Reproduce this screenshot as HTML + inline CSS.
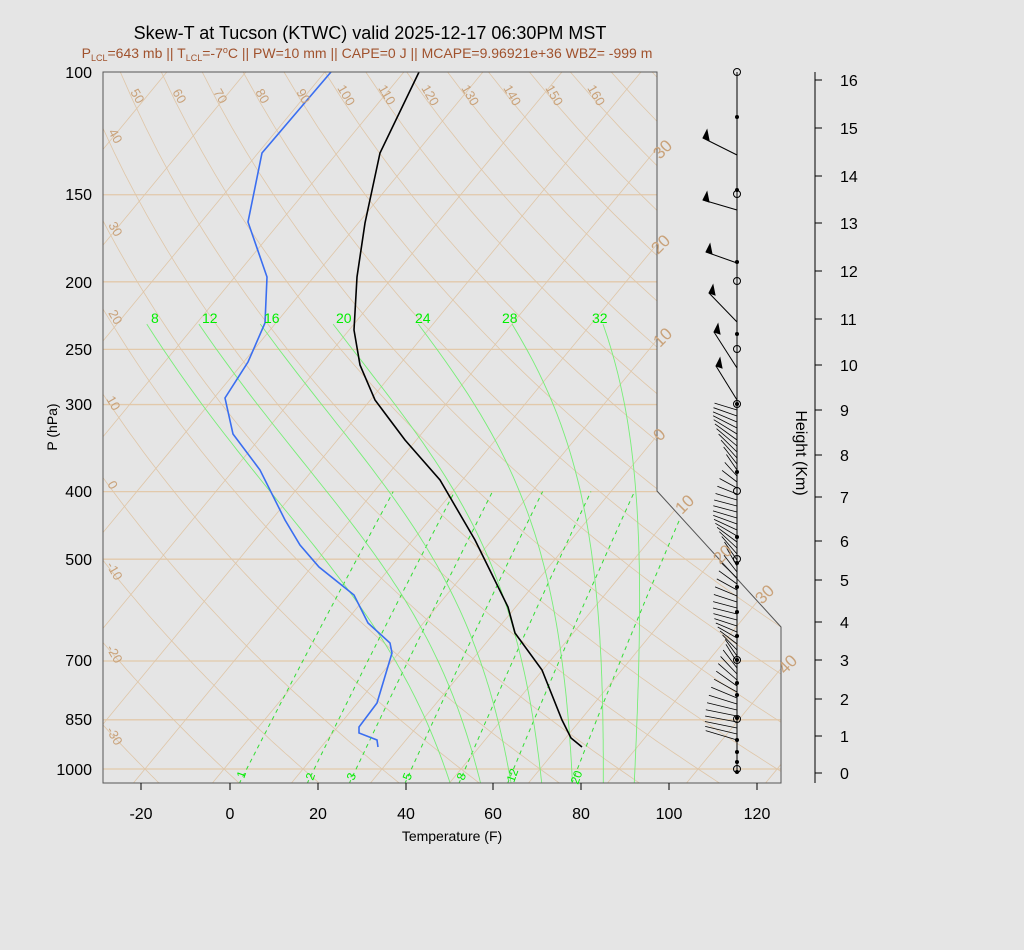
<!DOCTYPE html>
<html><head><meta charset="utf-8"><style>
body{margin:0;background:#e5e5e5;width:1024px;height:950px;overflow:hidden;font-family:"Liberation Sans",sans-serif}
svg{position:absolute;left:0;top:0}
</style></head><body>
<svg id="s" width="1024" height="950" xmlns="http://www.w3.org/2000/svg" font-family="Liberation Sans, sans-serif">
<defs><clipPath id="c"><polygon points="103,72 657,72 657,491 781,627 781,783 103,783"/></clipPath></defs>
<rect width="1024" height="950" fill="#e5e5e5"/>
<g id="grid" clip-path="url(#c)"></g>
<g id="snd" clip-path="url(#c)" fill="none" stroke-width="1.6">
<polyline stroke="#000" points="420,70 380,153 365,223 357,277 354,330 360,365 375,400 405,440 440,480 475,540 508,607 515,633 542,670 562,720 571,738 582,747"/>
<polyline stroke="#3a6ef0" points="331,72 262,153 248,222 267,277 265,323 248,362 225,398 233,434 260,470 285,520 300,545 319,567 354,595 368,623 390,643 392,653 377,703 359,727 359,733 377,740 378,747"/>
</g>
<polygon points="103,72 657,72 657,491 781,627 781,783 103,783" fill="none" stroke="#555" stroke-width="1"/>
<g id="barbs" stroke="#000" fill="none" stroke-width="1"></g>
<g font-size="13" fill="#c9a27a">
<text transform="translate(130,92) rotate(60)">50</text><text transform="translate(172,92) rotate(60)">60</text><text transform="translate(213,92) rotate(60)">70</text><text transform="translate(255,92) rotate(60)">80</text><text transform="translate(296,92) rotate(60)">90</text><text transform="translate(337,88) rotate(60)">100</text><text transform="translate(378,88) rotate(60)">110</text><text transform="translate(421,88) rotate(60)">120</text><text transform="translate(461,88) rotate(60)">130</text><text transform="translate(503,88) rotate(60)">140</text><text transform="translate(545,88) rotate(60)">150</text><text transform="translate(587,88) rotate(60)">160</text>
<text transform="translate(108,132) rotate(60)">40</text><text transform="translate(108,225) rotate(60)">30</text><text transform="translate(108,313) rotate(60)">20</text><text transform="translate(106,399) rotate(60)">10</text><text transform="translate(107,484) rotate(60)">0</text><text transform="translate(106,565) rotate(60)">-10</text><text transform="translate(106,648) rotate(60)">-20</text><text transform="translate(106,730) rotate(60)">-30</text>
</g>
<g font-size="17" fill="#c9a27a">
<text transform="translate(660,160) rotate(-45)">30</text><text transform="translate(658,255) rotate(-45)">20</text><text transform="translate(660,348) rotate(-45)">10</text><text transform="translate(660,442) rotate(-45)">0</text><text transform="translate(682,515) rotate(-45)">10</text><text transform="translate(720,565) rotate(-45)">20</text><text transform="translate(762,605) rotate(-45)">30</text><text transform="translate(785,675) rotate(-45)">40</text>
</g>
<g font-size="14" fill="#00ee00">
<text x="151" y="323">8</text><text x="202" y="323">12</text><text x="264" y="323">16</text><text x="336" y="323">20</text><text x="415" y="323">24</text><text x="502" y="323">28</text><text x="592" y="323">32</text>
</g>
<g font-size="12" fill="#00ee00">
<text transform="translate(244,779) rotate(-70)">1</text><text transform="translate(313,781) rotate(-70)">2</text><text transform="translate(354,781) rotate(-70)">3</text><text transform="translate(410,781) rotate(-70)">5</text><text transform="translate(464,781) rotate(-70)">8</text><text transform="translate(514,783) rotate(-70)">12</text><text transform="translate(578,785) rotate(-70)">20</text>
</g>
<g font-size="16" fill="#000" text-anchor="end">
<text x="92" y="78">100</text><text x="92" y="200">150</text><text x="92" y="288">200</text><text x="92" y="355">250</text><text x="92" y="410">300</text><text x="92" y="497">400</text><text x="92" y="565">500</text><text x="92" y="666">700</text><text x="92" y="725">850</text><text x="92" y="775">1000</text>
</g>
<text transform="translate(57,427) rotate(-90)" font-size="14" text-anchor="middle">P (hPa)</text>
<g stroke="#000"><line x1="141" y1="783" x2="141" y2="790"/><line x1="230" y1="783" x2="230" y2="790"/><line x1="318" y1="783" x2="318" y2="790"/><line x1="406" y1="783" x2="406" y2="790"/><line x1="493" y1="783" x2="493" y2="790"/><line x1="581" y1="783" x2="581" y2="790"/><line x1="669" y1="783" x2="669" y2="790"/><line x1="757" y1="783" x2="757" y2="790"/></g>
<g font-size="16" text-anchor="middle"><text x="141" y="819">-20</text><text x="230" y="819">0</text><text x="318" y="819">20</text><text x="406" y="819">40</text><text x="493" y="819">60</text><text x="581" y="819">80</text><text x="669" y="819">100</text><text x="757" y="819">120</text></g>
<text x="452" y="841" font-size="14" text-anchor="middle">Temperature (F)</text>
<g id="hax" stroke="#000"><line x1="815" y1="72" x2="815" y2="783"/></g>
<g font-size="16" id="hlab"><text x="840" y="779">0</text><text x="840" y="742">1</text><text x="840" y="705">2</text><text x="840" y="666">3</text><text x="840" y="628">4</text><text x="840" y="586">5</text><text x="840" y="547">6</text><text x="840" y="503">7</text><text x="840" y="461">8</text><text x="840" y="416">9</text><text x="840" y="371">10</text><text x="840" y="325">11</text><text x="840" y="277">12</text><text x="840" y="229">13</text><text x="840" y="182">14</text><text x="840" y="134">15</text><text x="840" y="86">16</text></g>
<text transform="translate(796,453) rotate(90)" font-size="16" text-anchor="middle">Height (Km)</text>
<text x="370" y="39" font-size="18" text-anchor="middle">Skew-T at Tucson (KTWC) valid 2025-12-17 06:30PM MST</text>
<text x="367" y="58" font-size="14" fill="#a0522d" text-anchor="middle">P<tspan font-size="9" dy="3">LCL</tspan><tspan dy="-3">=643 mb || T</tspan><tspan font-size="9" dy="3">LCL</tspan><tspan dy="-3">=-7</tspan><tspan font-size="9" dy="-5">o</tspan><tspan dy="5">C || PW=10 mm || CAPE=0 J || MCAPE=9.96921e+36 WBZ= -999 m</tspan></text>
</svg>
<script>
var NS="http://www.w3.org/2000/svg";
function Y(p){return 72+697*Math.log10(p/100);}
function X(Tc,y){var F=Tc*1.8+32;return 230+4.39*F+0.825*(783-y);}
function el(par,tag,a){var e=document.createElementNS(NS,tag);for(var k in a)e.setAttribute(k,a[k]);par.appendChild(e);return e;}
var g=document.getElementById('grid');
[150,200,250,300,400,500,700,850,1000].forEach(function(p){var y=Y(p);el(g,'line',{x1:103,x2:790,y1:y,y2:y,stroke:'#e2c9ab','stroke-width':1.3});});
for(var T=-160;T<=60;T+=10){el(g,'line',{x1:X(T,800),y1:800,x2:X(T,60),y2:60,stroke:'#dfc6a8','stroke-width':0.8});}
for(var th=-60;th<=260;th+=10){var pts=[];for(var p=1060;p>=95;p-=10){var y=Y(p);var Tk=(th+273.15)*Math.pow(p/1000,0.286);pts.push(X(Tk-273.15,y).toFixed(1)+','+y.toFixed(1));}el(g,'polyline',{points:pts.join(' '),fill:'none',stroke:'#dfc6a8','stroke-width':0.8});}
[1,2,3,5,8,12,20].forEach(function(w){var pts=[];for(var p=1050;p>=400;p-=10){var e=w*p/(622+w);var l=Math.log(e/6.112);var Td=243.5*l/(17.67-l);var y=Y(p);pts.push(X(Td,y).toFixed(1)+','+y.toFixed(1));}el(g,'polyline',{points:pts.join(' '),fill:'none',stroke:'#33dd33','stroke-width':1,'stroke-dasharray':'4,4'});});
function es(T){return 6.112*Math.exp(17.67*T/(T+243.5));}
function dTdp(Tk,p){var T=Tk-273.15;var e=es(T);var rs=0.622*e/(p-e);var Rd=287,Lv=2.5e6,cp=1005;return (Rd*Tk+Lv*rs)/(cp+Lv*Lv*rs*0.622/(Rd*Tk*Tk))/p;}
[8,12,16,20,24,28,32].forEach(function(tw){var T2=tw+273.15;for(var q=1000;q<1060;q+=2){T2+=dTdp(T2,q)*2;}
var pts=[];var Tc=T2;q=1060;while(q>225){var y=Y(q);pts.push(X(Tc-273.15,y).toFixed(1)+','+y.toFixed(1));for(var i=0;i<5;i++){Tc+=dTdp(Tc,q)*-2;q-=2;}}
el(g,'polyline',{points:pts.join(' '),fill:'none',stroke:'#77ee77','stroke-width':0.9});});
var b=document.getElementById('barbs');
el(b,'line',{x1:737,y1:72,x2:737,y2:772});
var dots=[117,190,262,334,404,472,537,563,587,612,636,660,683,695,718,740,752,762,772];
dots.forEach(function(y){el(b,'circle',{cx:737,cy:y,r:2,fill:'#000',stroke:'none'});});
[72,194,281,349,404,491,559,660,719,769].forEach(function(y){el(b,'circle',{cx:737,cy:y,r:3.5,fill:'none'});});
[[155,703,138],[210,703,200],[263,706,252],[322,709,293],[368,714,332],[400,716,366]].forEach(function(a){el(b,'line',{x1:737,y1:a[0],x2:a[1],y2:a[2]});el(b,'polygon',{points:a[1]+','+a[2]+' '+(a[1]+4)+','+(a[2]-8)+' '+(a[1]+6)+','+(a[2]+2),fill:'#000'});});
for(var y=410;y<745;y+=6){var dx=10+Math.abs(Math.sin(y/30))*14+(y>690?(y-690)*0.3:0);el(b,'line',{x1:737,y1:y,x2:737-dx,y2:y-12-Math.sin(y/17)*6,'stroke-width':0.8});}
var h=document.getElementById('hax');
[773,736,699,660,622,580,541,497,455,410,365,319,271,223,176,128,80].forEach(function(y){el(h,'line',{x1:815,x2:822,y1:y,y2:y});});
</script>
</body></html>
